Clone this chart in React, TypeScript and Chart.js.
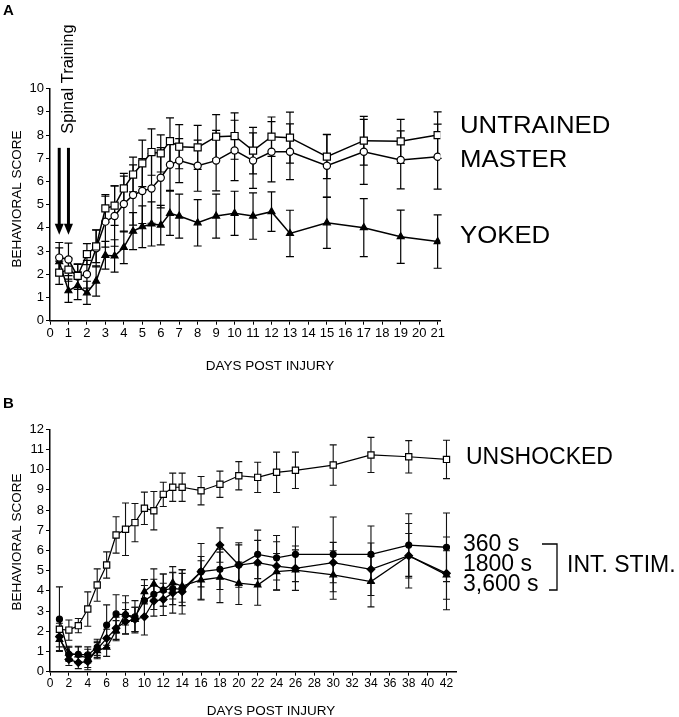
import React, { useEffect, useRef } from 'react';
import { Chart, registerables } from 'chart.js';
Chart.register(...registerables);

const FONT = '"Liberation Sans", Arial, Helvetica, sans-serif';

// ---------- Panel A data ----------
const daysA = [0.5, 1, 1.5, 2, 2.5, 3, 3.5, 4, 4.5, 5, 5.5, 6, 6.5, 7, 8, 9, 10, 11, 12, 13, 15, 17, 19, 21];
const untrained = [2.07, 2.2, 1.93, 2.87, 3.2, 4.84, 4.96, 5.7, 6.3, 6.78, 7.27, 7.21, 7.74, 7.5, 7.47, 7.93, 7.96, 7.33, 7.93, 7.89, 7.07, 7.76, 7.73, 8.0];
const untrainedErr = [0.5, 0.5, 0.5, 0.45, 0.7, 0.6, 0.85, 0.65, 0.75, 1.0, 1.0, 0.8, 1.0, 0.95, 0.95, 0.95, 1.0, 1.0, 0.85, 1.1, 0.95, 1.05, 0.95, 1.0];
const master = [2.72, 2.64, 1.9, 2.0, 3.12, 4.27, 4.51, 5.03, 5.42, 5.59, 5.7, 6.16, 6.72, 6.9, 6.68, 6.9, 7.34, 6.9, 7.28, 7.28, 6.68, 7.28, 6.93, 7.07];
const masterErr = [0.65, 0.7, 0.55, 0.6, 0.8, 1.1, 1.3, 1.2, 1.3, 1.4, 1.5, 1.3, 1.1, 0.95, 1.1, 1.3, 1.3, 1.2, 1.3, 1.2, 1.35, 1.4, 1.25, 1.4];
const yoked = [2.54, 1.29, 1.51, 1.2, 1.71, 2.82, 2.79, 3.16, 3.86, 4.05, 4.17, 4.12, 4.63, 4.51, 4.22, 4.51, 4.63, 4.51, 4.7, 3.76, 4.22, 4.01, 3.62, 3.41];
const yokedErr = [0.6, 0.5, 0.6, 0.5, 0.65, 0.6, 0.7, 0.7, 0.8, 0.9, 0.95, 0.85, 0.95, 0.95, 1.0, 0.95, 0.95, 1.0, 0.85, 1.0, 1.1, 1.25, 1.15, 1.15];
const seriesNamesA = ['UNTRAINED', 'MASTER', 'YOKED'];
const arrowDays = [0.5, 1];

// ---------- Panel B data ----------
const daysB = [1, 2, 3, 4, 5, 6, 7, 8, 9, 10, 11, 12, 13, 14, 16, 18, 20, 22, 24, 26, 30, 34, 38, 42];
const unshocked = [2.1, 2.06, 2.28, 3.1, 4.29, 5.28, 6.77, 7.05, 7.38, 8.09, 7.97, 8.78, 9.13, 9.13, 8.96, 9.28, 9.7, 9.62, 9.87, 9.97, 10.23, 10.73, 10.64, 10.51];
const unshockedErr = [0.3, 0.5, 0.35, 0.85, 0.8, 0.65, 0.9, 1.3, 0.95, 0.8, 0.95, 0.6, 0.7, 0.7, 0.7, 0.65, 0.7, 0.75, 1.0, 0.9, 1.0, 0.87, 0.8, 0.95];
const stim360 = [2.6, 0.86, 0.86, 0.83, 1.21, 2.31, 2.86, 2.81, 2.72, 3.52, 3.83, 4.04, 4.12, 4.07, 4.95, 5.07, 5.28, 5.81, 5.64, 5.81, 5.81, 5.81, 6.27, 6.16];
const stim360Err = [1.6, 0.35, 0.4, 0.4, 0.4, 1.0, 0.95, 0.95, 0.8, 0.75, 0.75, 0.8, 0.8, 0.8, 0.75, 1.0, 1.1, 1.2, 1.1, 1.35, 1.85, 1.4, 1.55, 1.7];
const stim1800 = [1.73, 0.61, 0.45, 0.5, 1.11, 1.65, 2.15, 2.48, 2.59, 2.72, 3.5, 3.58, 3.9, 3.96, 4.95, 6.27, 5.28, 5.4, 5.23, 5.12, 5.4, 5.07, 5.74, 4.87];
const stim1800Err = [0.5, 0.3, 0.3, 0.4, 0.4, 0.45, 0.55, 0.6, 0.6, 0.9, 0.75, 0.8, 1.0, 1.1, 1.4, 0.85, 1.0, 1.1, 1.2, 1.1, 1.0, 1.3, 1.6, 1.8];
const stim3600 = [1.6, 0.91, 0.83, 0.66, 1.04, 1.21, 2.03, 2.86, 2.59, 3.96, 4.34, 4.04, 4.4, 4.24, 4.54, 4.67, 4.38, 4.29, 4.95, 5.03, 4.79, 4.46, 5.74, 4.79];
const stim3600Err = [0.55, 0.35, 0.4, 0.45, 0.4, 0.45, 0.5, 0.55, 0.6, 0.6, 0.75, 0.8, 0.8, 0.8, 0.95, 1.25, 1.05, 1.0, 0.9, 1.0, 1.2, 1.25, 1.1, 1.2];
const seriesNamesB = ['UNSHOCKED', '360 s', '1800 s', '3,600 s'];

const yTicksA = { min: 0, max: 10, step: 1 };
const xTicksA = { min: 0, max: 21.15, step: 1 };
const yTicksB = { min: 0, max: 12, step: 1 };
const xTicksB = { min: 0, max: 43.05, step: 2 };

const pts = (xs: number[], ys: number[]) => xs.map((x, i) => ({ x, y: ys[i] }));

function errorBars(errs: number[][], capHalf: number, color: string, lw: number) {
  return {
    id: 'errbars',
    beforeDatasetsDraw(chart: any) {
      const ctx = chart.ctx;
      const xs = chart.scales.x;
      const ys = chart.scales.y;
      ctx.save();
      ctx.strokeStyle = color;
      ctx.lineWidth = lw;
      chart.data.datasets.forEach((ds: any, di: number) => {
        const e = errs[di];
        ds.data.forEach((p: any, i: number) => {
          const x = xs.getPixelForValue(p.x);
          const y1 = ys.getPixelForValue(p.y + e[i]);
          const y2 = ys.getPixelForValue(p.y - e[i]);
          ctx.beginPath();
          ctx.moveTo(x, y1);
          ctx.lineTo(x, y2);
          ctx.moveTo(x - capHalf, y1);
          ctx.lineTo(x + capHalf, y1);
          ctx.moveTo(x - capHalf, y2);
          ctx.lineTo(x + capHalf, y2);
          ctx.stroke();
        });
      });
      ctx.restore();
    },
  };
}

function axisScale(t: { min: number; max: number; step: number }, isX: boolean, size: number, fontSize: number) {
  return {
    type: 'linear',
    min: t.min,
    max: t.max,
    ticks: {
      stepSize: t.step,
      includeBounds: false,
      autoSkip: false,
      maxRotation: 0,
      minRotation: 0,
      color: '#000',
      padding: isX ? 1 : 2,
      font: { family: FONT, size: fontSize },
    },
    grid: { drawOnChartArea: false, drawTicks: true, tickLength: 4, color: '#000', lineWidth: 1 },
    border: { display: true, color: '#000', width: 1.5 },
    afterFit(scale: any) {
      if (isX) scale.height = size;
      else scale.width = size;
      scale.paddingLeft = 0;
      scale.paddingRight = 0;
      scale.paddingTop = 0;
      scale.paddingBottom = 0;
    },
  };
}

function rotatedText(ctx: any, text: string, x: number, y: number, font: string) {
  ctx.save();
  ctx.translate(x, y);
  ctx.rotate(-Math.PI / 2);
  ctx.font = font;
  ctx.textAlign = 'center';
  ctx.textBaseline = 'middle';
  ctx.fillText(text, 0, 0);
  ctx.restore();
}

function stretchedText(ctx: any, text: string, x: number, y: number, font: string, sx: number) {
  ctx.save();
  ctx.translate(x, y);
  ctx.scale(sx, 1);
  ctx.font = font;
  ctx.textAlign = 'left';
  ctx.textBaseline = 'middle';
  ctx.fillText(text, 0, 0);
  ctx.restore();
}

const annotA = {
  id: 'annotA',
  afterDraw(chart: any) {
    const ctx = chart.ctx;
    const xs = chart.scales.x;
    const ys = chart.scales.y;
    ctx.save();
    ctx.fillStyle = '#000';
    ctx.strokeStyle = '#000';
    ctx.font = `bold 15px ${FONT}`;
    ctx.textAlign = 'left';
    ctx.textBaseline = 'middle';
    ctx.fillText('A', 3, 11);
    rotatedText(ctx, 'BEHAVIORAL SCORE', 17.5, 199, `13.5px ${FONT}`);
    ctx.font = `13.5px ${FONT}`;
    ctx.textAlign = 'center';
    ctx.fillText('DAYS POST INJURY', 270, 366);
    rotatedText(ctx, 'Spinal Training', 68, 79, `16.5px ${FONT}`);
    arrowDays.forEach((d) => {
      const x = xs.getPixelForValue(d);
      const yTop = ys.getPixelForValue(7.45);
      const yTip = ys.getPixelForValue(3.7);
      ctx.lineWidth = 3;
      ctx.beginPath();
      ctx.moveTo(x, yTop);
      ctx.lineTo(x, yTip - 8);
      ctx.stroke();
      ctx.beginPath();
      ctx.moveTo(x - 4.5, yTip - 11);
      ctx.lineTo(x + 4.5, yTip - 11);
      ctx.lineTo(x, yTip);
      ctx.closePath();
      ctx.fill();
    });
    const f = `23px ${FONT}`;
    stretchedText(ctx, seriesNamesA[0], 460, 127, f, 1.12);
    stretchedText(ctx, seriesNamesA[1], 460, 161, f, 1.12);
    stretchedText(ctx, seriesNamesA[2], 460, 237, f, 1.12);
    ctx.restore();
  },
};

const annotB = {
  id: 'annotB',
  afterDraw(chart: any) {
    const ctx = chart.ctx;
    ctx.save();
    ctx.fillStyle = '#000';
    ctx.strokeStyle = '#000';
    ctx.font = `bold 15px ${FONT}`;
    ctx.textAlign = 'left';
    ctx.textBaseline = 'middle';
    ctx.fillText('B', 3, 14);
    rotatedText(ctx, 'BEHAVIORAL SCORE', 17.5, 152, `13.5px ${FONT}`);
    ctx.font = `13.5px ${FONT}`;
    ctx.textAlign = 'center';
    ctx.fillText('DAYS POST INJURY', 271, 321);
    const f = `23px ${FONT}`;
    stretchedText(ctx, seriesNamesB[0], 466, 68, f, 1.0);
    stretchedText(ctx, seriesNamesB[1], 463, 155, f, 1.0);
    stretchedText(ctx, seriesNamesB[2], 463, 175, f, 1.0);
    stretchedText(ctx, seriesNamesB[3], 463, 195, f, 1.0);
    ctx.lineWidth = 1.3;
    ctx.beginPath();
    ctx.moveTo(542, 154);
    ctx.lineTo(557, 154);
    ctx.lineTo(557, 200);
    ctx.lineTo(549, 200);
    ctx.stroke();
    stretchedText(ctx, 'INT. STIM.', 567, 176, f, 1.0);
    ctx.restore();
  },
};

const lineDs = (label: string, data: any[], style: string, r: number, fill: string, bw: number) => ({
  label,
  data,
  borderColor: '#000',
  borderWidth: bw,
  pointStyle: style,
  pointRadius: r,
  pointBackgroundColor: fill,
  pointBorderColor: '#000',
  pointBorderWidth: 1.2,
  tension: 0,
  fill: false,
});

export default function App() {
  const refA = useRef<HTMLCanvasElement>(null);
  const refB = useRef<HTMLCanvasElement>(null);

  useEffect(() => {
    const chartA = new Chart(refA.current as HTMLCanvasElement, {
      type: 'line',
      data: {
        datasets: [
          lineDs(seriesNamesA[0], pts(daysA, untrained), 'rect', 5, '#fff', 1.5),
          lineDs(seriesNamesA[1], pts(daysA, master), 'circle', 3.6, '#fff', 1.5),
          lineDs(seriesNamesA[2], pts(daysA, yoked), 'triangle', 4, '#000', 1.5),
        ],
      } as any,
      options: {
        responsive: false,
        animation: false,
        events: [],
        layout: { padding: { left: 10, right: 238.6, top: 88.7, bottom: 39.3 } },
        plugins: { legend: { display: false }, tooltip: { enabled: false }, title: { display: false } },
        scales: {
          x: axisScale(xTicksA, true, 30, 13),
          y: axisScale(yTicksA, false, 40, 13),
        },
      } as any,
      plugins: [errorBars([untrainedErr, masterErr, yokedErr], 4, '#000', 1.2), annotA],
    });

    const chartB = new Chart(refB.current as HTMLCanvasElement, {
      type: 'line',
      data: {
        datasets: [
          lineDs(seriesNamesB[0], pts(daysB, unshocked), 'rect', 4.4, '#fff', 1.2),
          lineDs(seriesNamesB[1], pts(daysB, stim360), 'circle', 3, '#000', 1.3),
          lineDs(seriesNamesB[2], pts(daysB, stim1800), 'rectRot', 3.8, '#000', 1.3),
          lineDs(seriesNamesB[3], pts(daysB, stim3600), 'triangle', 3.8, '#000', 1.3),
        ],
      } as any,
      options: {
        responsive: false,
        animation: false,
        events: [],
        layout: { padding: { left: 10, right: 222.6, top: 39.3, bottom: 15.3 } },
        plugins: { legend: { display: false }, tooltip: { enabled: false }, title: { display: false } },
        scales: {
          x: axisScale(xTicksB, true, 30, 12),
          y: axisScale(yTicksB, false, 40, 13),
        },
      } as any,
      plugins: [errorBars([unshockedErr, stim360Err, stim1800Err, stim3600Err], 3.5, '#111', 1.1), annotB],
    });

    return () => {
      chartA.destroy();
      chartB.destroy();
    };
  }, []);

  return (
    <div style={{ position: 'absolute', left: 0, top: 0, width: 679, height: 717, background: '#fff' }}>
      <canvas ref={refA} width={679} height={390} style={{ position: 'absolute', left: 0, top: 0, display: 'block' }} />
      <canvas ref={refB} width={679} height={327} style={{ position: 'absolute', left: 0, top: 390, display: 'block' }} />
    </div>
  );
}
